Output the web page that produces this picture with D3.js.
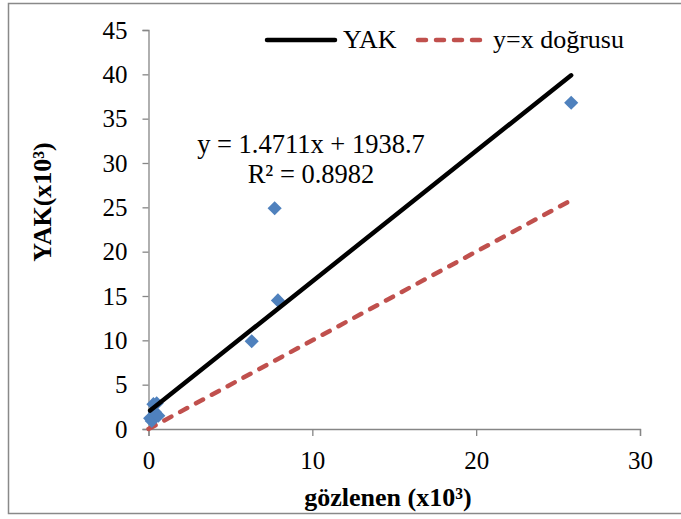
<!DOCTYPE html>
<html>
<head>
<meta charset="utf-8">
<script src="https://cdn.jsdelivr.net/npm/d3@7/dist/d3.min.js"></script>
<style>
    body {margin: 0; background: #fff;}
    text {font-family: "Liberation Serif", "Times New Roman", serif; fill: #000;}
    .axis path, .axis line {stroke: #868686; stroke-width: 1.3;}
    .axis text {font-size: 25px; font-family: "Liberation Serif", serif;}
</style>
</head>
<body>
<div id="container"></div>
<script>
// observed vs YAK values (x10^3)
const gozlenen = [0.1, 0.2, 0.3, 0.4, 0.5, 0.6, 6.3, 7.7, 7.9, 25.8];
const yak      = [1.2, 0.9, 2.8, 1.9, 2.9, 1.5, 9.9, 24.9, 14.5, 36.8];
// trendline from the chart label
const slope = 1.4711;
const intercept = 1.9387;
const xTicks = [0, 10, 20, 30];
const yTicks = [0, 5, 10, 15, 20, 25, 30, 35, 40, 45];
const legendItems = ['YAK', 'y=x doğrusu'];

const w = 681;
const h = 519;

const svg = d3.select('#container')
    .append('svg')
    .attr('width', w)
    .attr('height', h);

// outer frame
svg.append('rect')
    .attr('x', 8.5).attr('y', 3.5)
    .attr('width', 700).attr('height', 510)
    .attr('fill', '#fff')
    .attr('stroke', '#898989')
    .attr('stroke-width', 1.5);

const x = d3.scaleLinear().domain([0, 30]).range([148.5, 640]);
const y = d3.scaleLinear().domain([0, 45]).range([429, 30]);

svg.append('g')
    .attr('class', 'axis')
    .attr('transform', `translate(0, ${y(0)})`)
    .call(d3.axisBottom(x).tickValues(xTicks).tickSize(7).tickPadding(15).tickFormat(d3.format('d')));

svg.append('g')
    .attr('class', 'axis')
    .attr('transform', `translate(${x(0)}, 0)`)
    .call(d3.axisLeft(y).tickValues(yTicks).tickSize(6).tickPadding(15).tickFormat(d3.format('d')));

svg.selectAll('.axis .domain').attr('stroke', '#868686');

const xmin = d3.min(gozlenen);
const xmax = d3.max(gozlenen);

// y=x line
svg.append('line')
    .attr('x1', x(0)).attr('y1', y(0))
    .attr('x2', x(xmax)).attr('y2', y(xmax))
    .attr('stroke', '#C0504D')
    .attr('stroke-width', 4.5)
    .attr('stroke-linecap', 'round')
    .attr('stroke-dasharray', '8,10');

// points
const pts = gozlenen.map((g, i) => ({x: g, y: yak[i]}));
svg.selectAll('path.pt')
    .data(pts)
    .enter()
    .append('path')
    .attr('class', 'pt')
    .attr('d', d3.symbol().type(d3.symbolSquare).size(100))
    .attr('transform', d => `translate(${x(d.x)}, ${y(d.y)}) rotate(45)`)
    .attr('fill', '#4F81BD');

// regression line
svg.append('line')
    .attr('x1', x(xmin)).attr('y1', y(slope * xmin + intercept))
    .attr('x2', x(xmax)).attr('y2', y(slope * xmax + intercept))
    .attr('stroke', '#000')
    .attr('stroke-width', 4.5)
    .attr('stroke-linecap', 'round');

// equation
svg.append('text')
    .attr('x', 311).attr('y', 153)
    .attr('text-anchor', 'middle')
    .style('font-size', '26.5px')
    .text(`y = ${slope}x + ${(intercept * 1000).toFixed(1)}`);
svg.append('text')
    .attr('x', 311).attr('y', 183)
    .attr('text-anchor', 'middle')
    .style('font-size', '26.5px')
    .text('R² = 0.8982');

// legend
const lg = svg.append('g');
lg.append('line')
    .attr('x1', 267).attr('y1', 40).attr('x2', 335).attr('y2', 40)
    .attr('stroke', '#000').attr('stroke-width', 4.5).attr('stroke-linecap', 'round');
lg.append('text').attr('x', 343).attr('y', 48).style('font-size', '26px').text(legendItems[0]);
lg.append('line')
    .attr('x1', 418).attr('y1', 40).attr('x2', 487).attr('y2', 40)
    .attr('stroke', '#C0504D').attr('stroke-width', 4.5).attr('stroke-linecap', 'round')
    .attr('stroke-dasharray', '8,10');
lg.append('text').attr('x', 493).attr('y', 48).style('font-size', '26px').text(legendItems[1]);

// axis titles
svg.append('text')
    .attr('x', 388).attr('y', 506)
    .attr('text-anchor', 'middle')
    .style('font-size', '26px')
    .style('font-weight', 'bold')
    .text('gözlenen (x10³)');

svg.append('text')
    .attr('transform', 'translate(51, 202) rotate(-90)')
    .attr('text-anchor', 'middle')
    .style('font-size', '26px')
    .style('font-weight', 'bold')
    .text('YAK(x10³)');
</script>
</body>
</html>
